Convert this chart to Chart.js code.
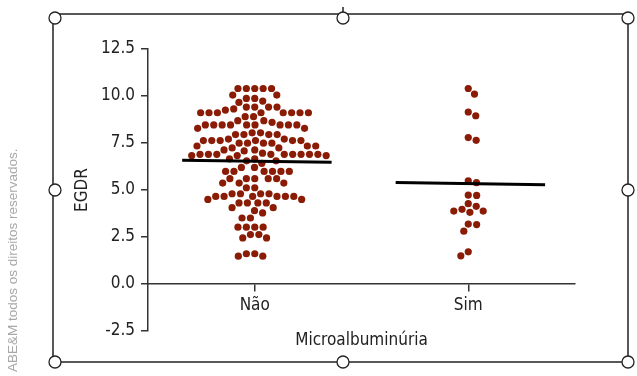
<!DOCTYPE html>
<html>
<head>
<meta charset="utf-8">
<script src="https://cdn.jsdelivr.net/npm/chart.js@4"></script>
<style>
  body { margin: 0; background: #fff; }
  #wrap { width: 637px; height: 376px; position: relative; }
</style>
</head>
<body>
<div id="wrap"><canvas id="zeChart"></canvas></div>
<script>
// data
const categories = ["Não", "Sim"];
const yTicks = [-2.5, 0, 2.5, 5, 7.5, 10, 12.5];

const naoValues = [
  10.40, 10.40, 10.40, 10.40, 10.40, 10.05, 10.05, 9.87, 9.87, 9.73, 9.66,
  9.41, 9.41, 9.41, 9.41, 9.31, 9.25,
  9.11, 9.11, 9.11, 9.11, 9.11, 9.11, 9.11, 9.11, 8.90, 8.90, 8.69, 8.69, 8.60,
  8.46, 8.46, 8.46, 8.46, 8.46, 8.46, 8.46, 8.46, 8.46, 8.28, 8.28,
  8.04, 8.04, 7.95, 7.95, 7.95, 7.95, 7.71, 7.71,
  7.63, 7.63, 7.63, 7.63, 7.63, 7.63, 7.49, 7.49, 7.49, 7.49,
  7.34, 7.34, 7.34, 7.24, 7.24, 7.13, 7.13, 7.08, 6.96,
  6.90, 6.90, 6.90, 6.90, 6.90, 6.90, 6.90, 6.90, 6.90, 6.83, 6.83, 6.83,
  6.66, 6.66, 6.55, 6.55, 6.42, 6.20, 6.20,
  5.99, 5.99, 5.99, 5.99, 5.99, 5.99, 5.60, 5.60, 5.60, 5.60, 5.60,
  5.37, 5.37, 5.37, 5.12, 5.12,
  4.80, 4.80, 4.80, 4.80, 4.66, 4.66, 4.66, 4.66, 4.66, 4.66, 4.50, 4.50,
  4.31, 4.31, 4.31, 4.31, 4.06, 4.06, 3.90, 3.78, 3.51, 3.51,
  3.02, 3.02, 3.02, 3.02, 2.63, 2.63, 2.45, 2.45, 1.61, 1.61, 1.48, 1.48
];
const simValues = [
  10.40, 10.10, 9.15, 8.95, 7.79, 7.64, 5.49, 5.39, 4.73, 4.71, 4.27,
  4.13, 3.97, 3.88, 3.88, 3.81, 3.19, 3.16, 2.81, 1.71, 1.50
];
// median lines (left end, right end) as drawn
const medianNao = [6.58, 6.48];
const medianSim = [5.40, 5.28];
const medianHalf = 0.35;

const FONT = "'DejaVu Sans Condensed', 'Liberation Sans', sans-serif";
const DOT = '#8a1c06';

function lineData(i, m) {
  return [{ x: i - medianHalf + 0.01, y: m[0] }, { x: i + medianHalf + 0.01, y: m[1] }];
}

// selection frame + watermark
const framePlugin = {
  id: 'frame',
  afterDraw(chart) {
    const c = chart.ctx;
    c.save();
    c.strokeStyle = '#222';
    c.lineWidth = 1.5;
    c.strokeRect(53, 14, 575, 348);
    c.beginPath();
    c.moveTo(343, 7); c.lineTo(343, 14);
    c.stroke();
    const pts = [[55, 18], [343, 18], [628, 18], [55, 190], [628, 190], [55, 362], [343, 362], [628, 362]];
    pts.forEach(p => {
      c.beginPath();
      c.arc(p[0], p[1], 6, 0, Math.PI * 2);
      c.fillStyle = '#fff';
      c.fill();
      c.lineWidth = 1.3;
      c.stroke();
    });
    c.translate(17, 372);
    c.rotate(-Math.PI / 2);
    c.fillStyle = '#a8a8a8';
    c.font = "13.5px 'Liberation Sans', sans-serif";
    c.textAlign = 'left';
    c.fillText('ABE&M todos os direitos reservados.', 0, 0);
    c.restore();
  }
};

const ctx = document.getElementById('zeChart');

const chart = new Chart(ctx, {
  type: 'scatter',
  data: {
    datasets: [
      { type: 'line', data: lineData(0, medianNao), borderColor: '#000', borderWidth: 3, pointRadius: 0 },
      { type: 'line', data: lineData(1, medianSim), borderColor: '#000', borderWidth: 3, pointRadius: 0 },
      { data: naoValues.map(v => ({ x: 0, y: v })), backgroundColor: DOT, borderWidth: 0, pointRadius: 3.6 },
      { data: simValues.map(v => ({ x: 1, y: v })), backgroundColor: DOT, borderWidth: 0, pointRadius: 3.6 }
    ]
  },
  options: {
    responsive: true,
    maintainAspectRatio: false,
    animation: false,
    layout: { padding: { left: 60, right: 62, top: 49, bottom: 45 } },
    plugins: { legend: { display: false }, tooltip: { enabled: false } },
    scales: {
      x: {
        type: 'linear',
        min: -0.5,
        max: 1.5,
        position: { y: 0 },
        afterBuildTicks: s => { s.ticks = categories.map((c, i) => ({ value: i })); },
        ticks: {
          callback: v => categories[v],
          color: '#222',
          font: { family: FONT, size: 17 },
          padding: 4,
          maxRotation: 0
        },
        grid: { drawOnChartArea: false, tickLength: 7, color: '#333', lineWidth: 1.5 },
        border: { color: '#333', width: 1.5 },
        title: {
          display: true,
          text: 'Microalbuminúria',
          color: '#222',
          font: { family: FONT, size: 17 },
          padding: { top: 11, bottom: 0 }
        }
      },
      y: {
        min: -2.5,
        max: 12.5,
        afterBuildTicks: s => { s.ticks = yTicks.map(v => ({ value: v })); },
        afterFit: s => { s.width = 88; },
        ticks: {
          callback: v => v.toFixed(1),
          color: '#222',
          font: { family: FONT, size: 17 },
          padding: 6
        },
        grid: { drawOnChartArea: false, tickLength: 7, color: '#333', lineWidth: 1.5 },
        border: { color: '#333', width: 1.5 },
        title: {
          display: true,
          text: 'EGDR',
          color: '#222',
          font: { family: FONT, size: 17 },
          padding: { top: 12, bottom: 0 }
        }
      }
    }
  },
  plugins: [framePlugin]
});

// beeswarm: spread equal-ish values sideways so dots don't overlap
function swarm(values, pxPerY, D) {
  const order = values.map((v, i) => i).sort((a, b) => values[b] - values[a]);
  const placed = [];
  const out = new Array(values.length);
  let flip = 1;
  for (const i of order) {
    const y = values[i] * pxPerY;
    const near = placed.filter(p => Math.abs(p.y - y) < D);
    const cands = [0];
    near.forEach(p => {
      const dx = Math.sqrt(D * D - (p.y - y) * (p.y - y));
      cands.push(p.x + dx, p.x - dx);
    });
    cands.sort((a, b) => (Math.abs(a) - Math.abs(b)) || (a - b) * flip);
    let x = 0;
    for (const c of cands) {
      if (near.every(p => (p.x - c) ** 2 + (p.y - y) ** 2 >= D * D - 0.01)) { x = c; break; }
    }
    flip = -flip;
    placed.push({ x, y });
    out[i] = x;
  }
  return out;
}

const pxX = Math.abs(chart.scales.x.getPixelForValue(1) - chart.scales.x.getPixelForValue(0));
const pxY = Math.abs(chart.scales.y.getPixelForValue(1) - chart.scales.y.getPixelForValue(0));
[naoValues, simValues].forEach((vals, g) => {
  const offs = swarm(vals, pxY, 8.4);
  chart.data.datasets[g + 2].data = vals.map((v, i) => ({ x: g + offs[i] / pxX, y: v }));
});
chart.update('none');
</script>
</body>
</html>
